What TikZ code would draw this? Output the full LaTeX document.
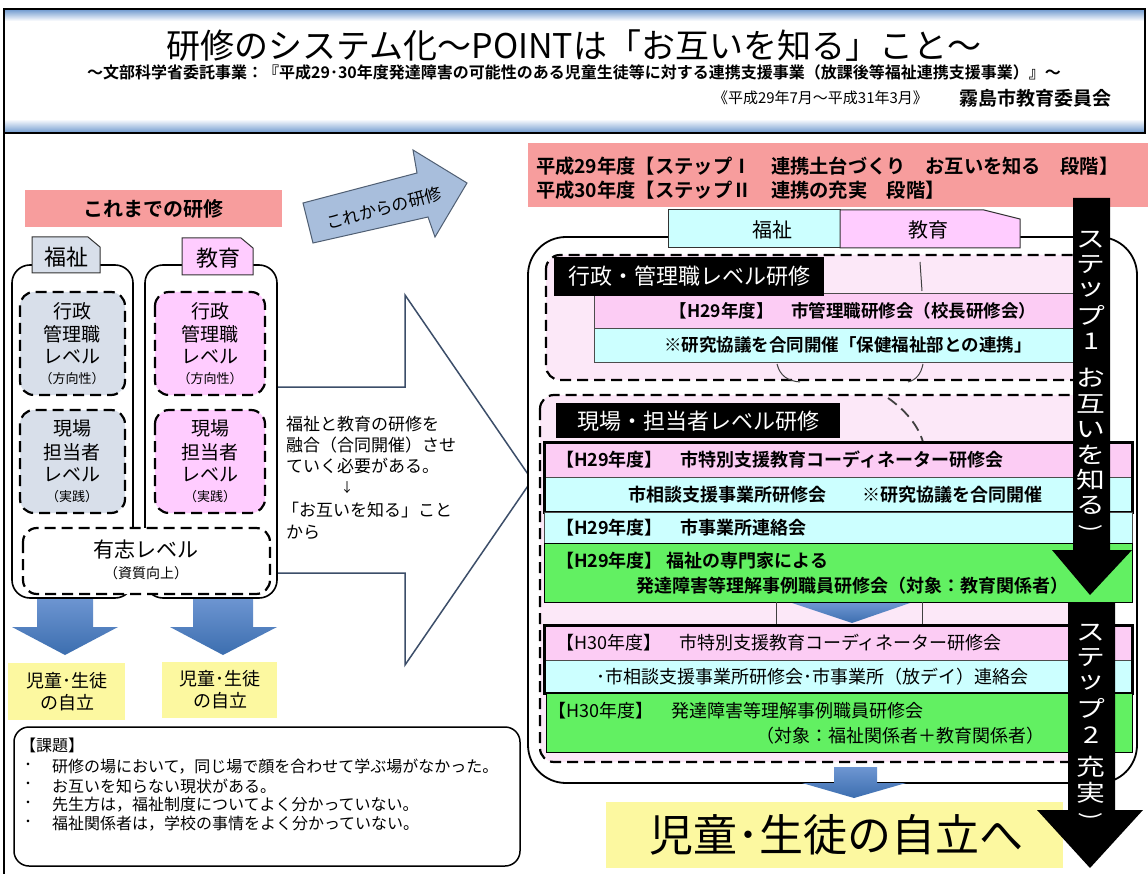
\documentclass[tikz,border=0pt]{standalone}
\usepackage{fontspec}
\setmainfont{Noto Sans CJK JP}[BoldFont={Noto Sans CJK JP Bold}]
\newcommand\fsz[1]{\fontsize{#1}{#1}\selectfont}
\definecolor{hdrpink}{RGB}{247,157,157}
\definecolor{ttlblue}{RGB}{120,160,210}
\definecolor{gblue}{RGB}{216,223,234}
\definecolor{lpink}{RGB}{255,204,255}
\definecolor{rpink}{RGB}{252,204,244}
\definecolor{rcyan}{RGB}{204,255,255}
\definecolor{rgreen}{RGB}{98,240,98}
\definecolor{ltpink}{RGB}{252,232,248}
\definecolor{yel}{RGB}{252,248,160}
\definecolor{bluetop}{RGB}{110,150,210}
\definecolor{bluebot}{RGB}{60,110,175}
\definecolor{steel}{RGB}{168,190,220}
\definecolor{steelline}{RGB}{80,95,115}
\definecolor{bigline}{RGB}{60,78,105}
\begin{document}
\begin{tikzpicture}[x=1pt,y=-1pt,
  every node/.style={inner sep=0pt,outer sep=0pt},
  dbox/.style={draw=black,line width=2.2pt,dash pattern=on 11pt off 6pt,rounded corners=14pt},
  cont/.style={draw=black,line width=1.6pt,rounded corners=18pt,fill=white},
  tabline/.style={draw=black!80,line width=1pt},
  rowb/.style={draw=black!70,line width=0.7pt},
  thickb/.style={draw=black,line width=3pt},
  barrow/.style={top color=bluetop,bottom color=bluebot},
  ghost/.style={draw=black!75,line width=1pt},
  lt/.style={font=\fsz{19}},
  ls/.style={font=\fsz{13}},
  rb/.style={font=\bfseries\fsz{18},anchor=west},
  rr/.style={font=\fsz{18},anchor=west},
  steptxt/.style={text=white,font=\fsz{23}},
  kt/.style={font=\fsz{16},anchor=west}]
\useasboundingbox (0,0) rectangle (1148,874);
\fill[white] (0,0) rectangle (1148,874);

% ---------- title ----------
\shade[top color=ttlblue,bottom color=white] (5,10) rectangle (1145,21);
\shade[top color=white,bottom color=ttlblue] (5,119) rectangle (1145,132);
\draw[line width=2pt] (4,9) rectangle (1145,133);
\draw[line width=2.5pt] (4,133) -- (4,874);
\node[font=\fsz{34}] (title) at (574,46) {研修のシステム化～POINTは「お互いを知る」こと～};
\node[font=\bfseries\fsz{16}] (subtitle) at (574,72) {～文部科学省委託事業：『平成29･30年度発達障害の可能性のある児童生徒等に対する連携支援事業（放課後等福祉連携支援事業）』～};
\node[font=\fsz{15},anchor=west] (period) at (713,98) {《平成29年7月～平成31年3月》};
\node[font=\bfseries\fsz{19},anchor=west] (board) at (959,98) {霧島市教育委員会};

% ---------- left ----------
\fill[hdrpink] (25,190) rectangle (282,227);
\node[font=\bfseries\fsz{20}] (oldhdr) at (153,209) {これまでの研修};
\draw[draw=steelline,fill=steel,line width=1pt,line join=miter] (303,203) -- (417,173) -- (413,150) -- (467,183) -- (435,237) -- (428,217) -- (313,243) -- cycle;
\node[font=\fsz{17},rotate=15] (newlbl) at (384,208) {これからの研修};

\shade[barrow] (37,597) -- (93,597) -- (93,627) -- (118,627) -- (65,655) -- (12,627) -- (37,627) -- cycle;
\shade[barrow] (193,597) -- (253,597) -- (253,627) -- (277,627) -- (223,655) -- (170,627) -- (193,627) -- cycle;

\draw[line width=1.5pt,draw=bigline,fill=white,line join=miter] (277,387) -- (405,387) -- (405,295) -- (532,480) -- (405,665) -- (405,573) -- (277,573);

\draw[cont] (12,265) rectangle (133,598);
\draw[cont] (145,265) rectangle (277,598);
\draw[tabline,fill=gblue] (32,273) -- (32,237) -- (88,237) -- (100,247) -- (100,273) -- cycle;
\node[font=\fsz{22}] (welftab) at (66,257) {福祉};
\draw[tabline,fill=lpink] (182,275) -- (182,238) -- (241,238) -- (253,248) -- (253,275) -- cycle;
\node[font=\fsz{22}] (edutab) at (218,258) {教育};

\draw[dbox,fill=gblue] (20,292) rectangle (125,395);
\draw[dbox,fill=lpink] (155,292) rectangle (265,395);
\draw[dbox,fill=gblue] (20,410) rectangle (125,513);
\draw[dbox,fill=lpink] (155,410) rectangle (265,513);
\draw[dbox,fill=white] (23,528) rectangle (270,594);

\node[lt] (wa1) at (72,311) {行政};
\node[lt] (wa2) at (72,334) {管理職};
\node[lt] (wa3) at (72,357) {レベル};
\node[ls] (wa4) at (72,379) {（方向性）};
\node[lt] (ea1) at (210,311) {行政};
\node[lt] (ea2) at (210,334) {管理職};
\node[lt] (ea3) at (210,357) {レベル};
\node[ls] (ea4) at (210,379) {（方向性）};
\node[lt] (wb1) at (72,428) {現場};
\node[lt] (wb2) at (72,452) {担当者};
\node[lt] (wb3) at (72,475) {レベル};
\node[ls] (wb4) at (72,497) {（実践）};
\node[lt] (eb1) at (210,428) {現場};
\node[lt] (eb2) at (210,452) {担当者};
\node[lt] (eb3) at (210,475) {レベル};
\node[ls] (eb4) at (210,497) {（実践）};
\node[font=\fsz{21}] (vol1) at (146,550) {有志レベル};
\node[font=\fsz{14}] (vol2) at (146,573) {（資質向上）};

\fill[yel] (8,663) rectangle (125,720);
\fill[yel] (162,662) rectangle (277,718);
\node[font=\fsz{18}] (ya1) at (67,681) {児童･生徒};
\node[font=\fsz{18}] (ya2) at (67,703) {の自立};
\node[font=\fsz{18}] (yb1) at (220,679) {児童･生徒};
\node[font=\fsz{18}] (yb2) at (220,701) {の自立};

\node[font=\fsz{17},anchor=west] (m1) at (286,424) {福祉と教育の研修を};
\node[font=\fsz{17},anchor=west] (m2) at (286,445) {融合（合同開催）させ};
\node[font=\fsz{17},anchor=west] (m3) at (286,466) {ていく必要がある。};
\node[font=\fsz{13}] (m4) at (347,488) {↓};
\node[font=\fsz{17},anchor=west] (m5) at (282,510) {「お互いを知る」こと};
\node[font=\fsz{17},anchor=west] (m6) at (286,532) {から};

\draw[draw=black,line width=1.5pt,rounded corners=15pt] (14,727) rectangle (520,866);
\node[kt] (k0) at (20,745) {【課題】};
\node[kt] (kb1) at (24,767) {･};
\node[kt] (kb2) at (24,786) {･};
\node[kt] (kb3) at (24,805) {･};
\node[kt] (kb4) at (24,824) {･};
\node[kt] (k1) at (52,767) {研修の場において，同じ場で顔を合わせて学ぶ場がなかった。};
\node[kt] (k2) at (52,786) {お互いを知らない現状がある。};
\node[kt] (k3) at (52,805) {先生方は，福祉制度についてよく分かっていない。};
\node[kt] (k4) at (52,824) {福祉関係者は，学校の事情をよく分かっていない。};

% ---------- right ----------
\fill[hdrpink] (528,143) rectangle (1148,207);
\node[font=\bfseries\fsz{19.3},anchor=west] (h1) at (536,166) {平成29年度【ステップⅠ　連携土台づくり　お互いを知る　段階】};
\node[font=\bfseries\fsz{19.3},anchor=west] (h2) at (536,190) {平成30年度【ステップⅡ　連携の充実　段階】};

\draw[draw=black,line width=1.8pt,rounded corners=38pt,fill=white] (528,237) rectangle (1137,783);
\draw[tabline,fill=rcyan] (668,210) rectangle (840,248);
\draw[tabline,fill=lpink] (840,248) -- (840,210) -- (984,210) -- (1020,219) -- (1020,248) -- cycle;
\node[font=\fsz{20}] (rwelf) at (772,230) {福祉};
\node[font=\fsz{20}] (redu) at (928,230) {教育};

\draw[dbox,fill=ltpink] (546,255) rectangle (1100,380);
\draw[ghost] (920,262) -- (922,291);
\draw[ghost] (777,364) .. controls (780,376) and (788,381) .. (800,382);
\draw[ghost] (923,364) .. controls (921,374) and (916,380) .. (908,382);
\draw[rowb,fill=rpink] (594,293) rectangle (1090,328);
\draw[rowb,fill=rcyan] (594,328) rectangle (1090,362);
\fill[black] (554,257) rectangle (824,296);
\node[text=white,font=\fsz{22}] (admlbl) at (689,276) {行政・管理職レベル研修};
\node[font=\bfseries\fsz{17.5}] (adm1) at (853,311) {【H29年度】　市管理職研修会（校長研修会）};
\node[font=\bfseries\fsz{17.5}] (adm2) at (848,345) {※研究協議を合同開催「保健福祉部との連携」};

\draw[dbox,fill=ltpink] (540,395) rectangle (1100,762);
\draw[ghost,dash pattern=on 11pt off 6pt,line width=1.8pt] (888,398) .. controls (905,410) and (918,425) .. (923,442);
\fill[black] (556,403) rectangle (840,438);
\node[text=white,font=\fsz{22}] (fldlbl) at (698,421) {現場・担当者レベル研修};

\draw[rowb,fill=rpink] (544,442) rectangle (1132,477);
\draw[rowb,fill=rcyan] (544,477) rectangle (1132,512);
\draw[thickb] (544,442) rectangle (1132,512);
\node[rb] (f1) at (556,460) {【H29年度】　市特別支援教育コーディネーター研修会};
\node[rb] (f2) at (628,495) {市相談支援事業所研修会　　※研究協議を合同開催};
\draw[rowb,fill=rcyan] (544,512) rectangle (1132,543);
\node[rb] (f3) at (556,528) {【H29年度】　市事業所連絡会};
\draw[draw=black,line width=1pt,fill=rgreen] (544,543) rectangle (1132,602);
\node[rb] (f4) at (556,561) {【H29年度】 福祉の専門家による};
\node[rb] (f5) at (636,586) {発達障害等理解事例職員研修会（対象：教育関係者）};

\draw[ghost] (776,602) -- (776,625);
\draw[ghost] (922,602) -- (922,625);
\shade[barrow] (792,603) -- (910,603) -- (852,623) -- cycle;

\draw[rowb,fill=rpink] (544,625) rectangle (1132,660);
\draw[rowb,fill=rcyan] (544,660) rectangle (1132,693);
\draw[thickb] (544,625) rectangle (1132,693);
\node[rr] (g1) at (556,643) {【H30年度】　市特別支援教育コーディネーター研修会};
\node[rr] (g2) at (596,677) {･市相談支援事業所研修会･市事業所（放デイ）連絡会};
\draw[draw=black,line width=1pt,fill=rgreen] (546,693) rectangle (1132,752);
\node[rr] (g3) at (548,711) {【H30年度】　発達障害等理解事例職員研修会};
\node[rr] (g4) at (756,736) {（対象：福祉関係者＋教育関係者）};

\shade[barrow] (834,767) -- (877,767) -- (877,783) -- (906,783) -- (854,798) -- (802,783) -- (834,783) -- cycle;
\fill[yel] (606,802) rectangle (1063,868);
\node[font=\fsz{44}] (goal) at (836,835) {児童･生徒の自立へ};

% step arrows
\fill[black] (1073,198) -- (1110,198) -- (1110,550) -- (1132,550) -- (1090,595) -- (1052,550) -- (1073,550) -- cycle;
\fill[black] (1068,603) -- (1115,603) -- (1115,810) -- (1143,810) -- (1090,868) -- (1037,810) -- (1068,810) -- cycle;
\foreach \c/\yy [count=\i] in {ス/240,テ/265,ッ/290,プ/315,1/341,お/378,互/404,い/430,を/455,知/480,る/505}
  \node[steptxt] (sa\i) at (1091,\yy) {\scalebox{1.25}[1]{\c}};
\node[steptxt,rotate=-90] (saend) at (1091,528) {)};
\foreach \c/\yy [count=\i] in {ス/633,テ/658,ッ/683,プ/708,2/735,充/767,実/793}
  \node[steptxt] (sb\i) at (1091,\yy) {\scalebox{1.25}[1]{\c}};
\node[steptxt,rotate=-90] (sbend) at (1091,816) {)};
\end{tikzpicture}
\end{document}
